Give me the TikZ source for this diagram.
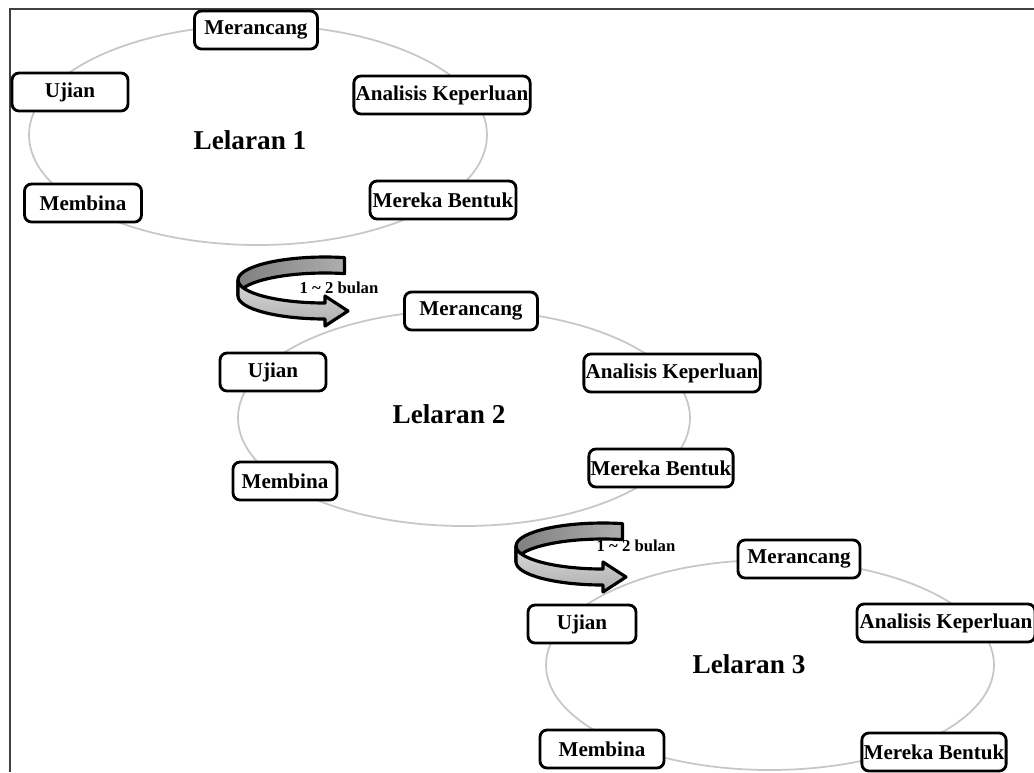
\documentclass[tikz,border=0pt]{standalone}
\usepackage{fontspec}
\setmainfont{Liberation Serif}
\usetikzlibrary{calc}
\definecolor{myGrey}{rgb}{0.78,0.78,0.78}
\definecolor{myDark}{rgb}{0.50,0.50,0.50}
\definecolor{myMid}{rgb}{0.68,0.68,0.68}
\definecolor{myLight}{rgb}{0.86,0.86,0.86}
\tikzset{
  tahap/.style={draw=black, line width=1.6pt, rounded corners=4pt, fill=white,
    inner xsep=1pt, minimum height=0.76cm,
    font=\fontsize{12}{14}\selectfont\bfseries},
  lelaran/.style={font=\fontsize{15.5}{18}\selectfont\bfseries},
  kitaran/.style={myGrey, line width=1pt},
  tempoh/.style={font=\fontsize{9.5}{11}\selectfont\bfseries},
  pita/.style={draw=black, line width=1.8pt, line join=round},
}
\begin{document}
\begin{tikzpicture}[x=0.02cm, y=-0.02cm]
\useasboundingbox (0,0) rectangle (1034,772);

%%%%%%%%%%%%%%%%%%%%%%%%%%%%%%%%%%%%%%%%%%%%%%%%%%%%%%%%%%%%%% Setup
\coordinate (E1) at (258,135);
\coordinate (E2) at (464,418);
\coordinate (E3) at (770,665);
% centre of the turning ribbons
\coordinate (P1) at (325,280);
\coordinate (P2) at (603,546);

% frame
\draw[line width=1.3pt, black!75] (10,772) -- (10,9) -- (1034,9);

%%%%%%%%%%%%%%%%%%%%%%%%%%%%%%%%%%%%%%%%%%%%%%%%%%%%%%%%%%%%%% Cycles
\draw[kitaran] (E1) ellipse[x radius=229, y radius=110];
\draw[kitaran] (E2) ellipse[x radius=226, y radius=108];
\draw[kitaran] (E3) ellipse[x radius=224, y radius=105];

%%%%%%%%%%%%%%%%%%%%%%%%%%%%%%%%%%%%%%%%%%%%%%%%%%%%%%%%%%%%%% Lelaran 1
\node[tahap, minimum width=2.46cm] (m1) at ($(E1)+(-2,-105)$) {Merancang};
\node[tahap, minimum width=2.32cm] (u1) at ($(E1)+(-188,-43)$) {Ujian};
\node[tahap, minimum width=3.42cm] (a1) at ($(E1)+(184,-40)$) {Analisis Keperluan};
\node[tahap, minimum width=2.34cm] (b1) at ($(E1)+(-175,68)$) {Membina};
\node[tahap, minimum width=2.92cm] (r1) at ($(E1)+(185,65)$) {Mereka Bentuk};
\node[lelaran] (l1) at ($(E1)+(-8,5)$) {Lelaran 1};

%%%%%%%%%%%%%%%%%%%%%%%%%%%%%%%%%%%%%%%%%%%%%%%%%%%%%%%%%%%%%% Lelaran 2
\node[tahap, minimum width=2.66cm] (m2) at ($(E2)+(7,-107)$) {Merancang};
\node[tahap, minimum width=2.12cm] (u2) at ($(E2)+(-191,-46)$) {Ujian};
\node[tahap, minimum width=3.28cm] (a2) at ($(E2)+(208,-45)$) {Analisis Keperluan};
\node[tahap, minimum width=2.08cm] (b2) at ($(E2)+(-179,63)$) {Membina};
\node[tahap, minimum width=2.78cm] (r2) at ($(E2)+(197,50)$) {Mereka Bentuk};
\node[lelaran] (l2) at ($(E2)+(-15,-4)$) {Lelaran 2};

%%%%%%%%%%%%%%%%%%%%%%%%%%%%%%%%%%%%%%%%%%%%%%%%%%%%%%%%%%%%%% Lelaran 3
\node[tahap, minimum width=2.44cm] (m3) at ($(E3)+(29,-106)$) {Merancang};
\node[tahap, minimum width=2.16cm] (u3) at ($(E3)+(-188,-41)$) {Ujian};
\node[tahap, minimum width=3.56cm] (a3) at ($(E3)+(176,-42)$) {Analisis Keperluan};
\node[tahap, minimum width=2.48cm] (b3) at ($(E3)+(-168,84)$) {Membina};
\node[tahap, minimum width=2.64cm] (r3) at ($(E3)+(164,87)$) {Mereka Bentuk};
\node[lelaran] (l3) at ($(E3)+(-21,-1)$) {Lelaran 3};

%%%%%%%%%%%%%%%%%%%%%%%%%%%%%%%%%%%%%%%%%%%%%%%%%%%%%%%%%%%%%% Ribbons
\foreach \p in {P1,P2}{
  % back of the band
  \filldraw[pita, left color=myDark, right color=myMid] ($(\p)+(283:87 and 23)$)
    arc[start angle=283, end angle=180, x radius=87, y radius=23]
    -- ++(0,16)
    arc[start angle=180, end angle=283, x radius=87, y radius=23] -- cycle;
  % front of the band with its head
  \filldraw[pita, top color=myLight, bottom color=myMid] ($(\p)+(180:87 and 23)$)
    arc[start angle=180, end angle=90, x radius=87, y radius=23]
    -- ++(0,-7) -- ++(23,15) -- ++(-23,15) -- ++(0,-7)
    arc[start angle=90, end angle=180, x radius=87, y radius=23] -- cycle;
}
\node[tempoh] (t1) at (339,288) {1 \textasciitilde\ 2 bulan};
\node[tempoh] (t2) at (636,546) {1 \textasciitilde\ 2 bulan};

\end{tikzpicture}
\end{document}
